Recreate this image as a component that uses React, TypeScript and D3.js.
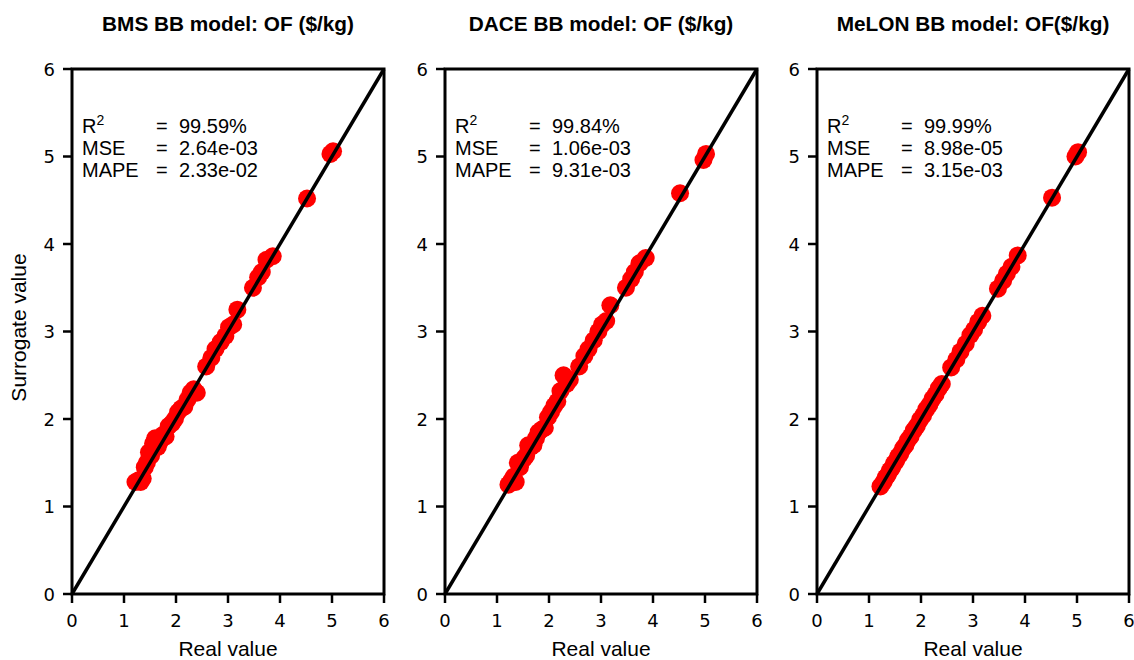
import React, { useRef, useEffect } from 'react';
import * as d3 from 'd3';

// shared test-set real values
const realValues = [
  1.22, 1.28, 1.32, 1.36, 1.40, 1.44, 1.48, 1.52, 1.56, 1.60,
  1.65, 1.70, 1.75, 1.80, 1.86, 1.92, 1.98, 2.04, 2.10, 2.16,
  2.22, 2.28, 2.34, 2.40, 2.58, 2.68, 2.76, 2.86, 2.95, 3.02,
  3.10, 3.18, 3.48, 3.58, 3.65, 3.74, 3.86, 4.52, 4.97, 5.02,
];

const bmsValues = [
  1.28, 1.30, 1.28, 1.32, 1.45, 1.50, 1.62, 1.58, 1.72, 1.78,
  1.68, 1.75, 1.82, 1.80, 1.92, 1.95, 2.00, 2.08, 2.12, 2.14,
  2.22, 2.30, 2.34, 2.30, 2.60, 2.70, 2.80, 2.88, 2.95, 3.05,
  3.08, 3.25, 3.50, 3.62, 3.68, 3.82, 3.86, 4.52, 5.03, 5.06,
];

const daceValues = [
  1.25, 1.30, 1.34, 1.28, 1.50, 1.45, 1.52, 1.55, 1.58, 1.70,
  1.68, 1.70, 1.78, 1.85, 1.88, 1.90, 2.02, 2.08, 2.15, 2.20,
  2.32, 2.50, 2.40, 2.45, 2.60, 2.72, 2.80, 2.90, 3.00, 3.08,
  3.12, 3.30, 3.50, 3.60, 3.68, 3.78, 3.84, 4.58, 4.96, 5.03,
];

const melonValues = [
  1.23, 1.28, 1.33, 1.36, 1.41, 1.44, 1.49, 1.52, 1.57, 1.60,
  1.66, 1.70, 1.76, 1.80, 1.87, 1.92, 1.99, 2.04, 2.11, 2.16,
  2.23, 2.28, 2.35, 2.40, 2.59, 2.68, 2.77, 2.86, 2.96, 3.02,
  3.11, 3.18, 3.49, 3.58, 3.66, 3.74, 3.87, 4.53, 5.00, 5.05,
];

const titles = [
  'BMS BB model: OF ($/kg)',
  'DACE BB model: OF ($/kg)',
  'MeLON BB model: OF($/kg)',
];

const metricLabels = ['MSE', 'MAPE'];
const metricValues = [
  ['99.59%', '2.64e-03', '2.33e-02'],
  ['99.84%', '1.06e-03', '9.31e-03'],
  ['99.99%', '8.98e-05', '3.15e-03'],
];

const ticks = [0, 1, 2, 3, 4, 5, 6];

function App() {
  const chartRef = useRef<SVGSVGElement>(null);

  useEffect(() => {
    drawChart();
  }, []);

  const drawChart = () => {
    const svgWidth = 1134;
    const svgHeight = 660;
    const panelLeft = [72, 445, 817];
    const panelWidth = 312;
    const top = 69;
    const bottom = 594;
    const series = [bmsValues, daceValues, melonValues];
    const sans = '"Liberation Sans", Arial, sans-serif';
    const tickFont = '"DejaVu Sans", sans-serif';

    const root = d3.select(chartRef.current);
    root.selectAll('*').remove();
    root.attr('width', svgWidth).attr('height', svgHeight);

    const yScale = d3.scaleLinear().domain([0, 6]).range([bottom, top]);

    series.forEach((vals, i) => {
      const x0 = panelLeft[i];
      const xScale = d3.scaleLinear().domain([0, 6]).range([x0, x0 + panelWidth]);
      const g = root.append('g');

      // title
      g.append('text')
        .attr('x', x0 + panelWidth / 2)
        .attr('y', 31)
        .attr('text-anchor', 'middle')
        .attr('font-family', sans)
        .attr('font-weight', 'bold')
        .attr('font-size', 20.8)
        .text(titles[i]);

      // points
      const pts = realValues.map((r, k) => ({ r, s: vals[k] }));
      g.selectAll('.dot')
        .data(pts)
        .enter().append('circle')
        .attr('class', 'dot')
        .attr('cx', d => xScale(d.r))
        .attr('cy', d => yScale(d.s))
        .attr('r', 9)
        .attr('fill', '#ff0000');

      // identity line
      const line = d3.line<number>()
        .x(d => xScale(d))
        .y(d => yScale(d));
      g.append('path')
        .datum([0, 6])
        .attr('fill', 'none')
        .attr('stroke', 'black')
        .attr('stroke-width', 3.5)
        .attr('d', line);

      // x ticks
      g.selectAll('.xtick')
        .data(ticks)
        .enter().append('line')
        .attr('class', 'xtick')
        .attr('x1', d => xScale(d))
        .attr('x2', d => xScale(d))
        .attr('y1', bottom)
        .attr('y2', bottom + 9)
        .attr('stroke', 'black')
        .attr('stroke-width', 2.5);
      g.selectAll('.xlab')
        .data(ticks)
        .enter().append('text')
        .attr('class', 'xlab')
        .attr('x', d => xScale(d))
        .attr('y', bottom + 33)
        .attr('text-anchor', 'middle')
        .style('font-family', tickFont)
        .style('font-size', '18px')
        .text(d => d);

      // y ticks
      g.selectAll('.ytick')
        .data(ticks)
        .enter().append('line')
        .attr('class', 'ytick')
        .attr('x1', x0 - 9)
        .attr('x2', x0)
        .attr('y1', d => yScale(d))
        .attr('y2', d => yScale(d))
        .attr('stroke', 'black')
        .attr('stroke-width', 2.5);
      g.selectAll('.ylab')
        .data(ticks)
        .enter().append('text')
        .attr('class', 'ylab')
        .attr('x', x0 - 17)
        .attr('y', d => yScale(d) + 6.5)
        .attr('text-anchor', 'end')
        .style('font-family', tickFont)
        .style('font-size', '18px')
        .text(d => d);

      // frame
      g.append('rect')
        .attr('x', x0)
        .attr('y', top)
        .attr('width', panelWidth)
        .attr('height', bottom - top)
        .attr('fill', 'none')
        .attr('stroke', 'black')
        .attr('stroke-width', 3);

      // metrics
      const txt = g.append('g')
        .attr('font-family', sans)
        .attr('font-size', 20)
        .attr('fill', 'black');
      const r2 = txt.append('text').attr('x', x0 + 10).attr('y', 133);
      r2.append('tspan').text('R');
      r2.append('tspan').attr('font-size', 14).attr('dy', -8).text('2');
      metricLabels.forEach((m, k) => {
        txt.append('text').attr('x', x0 + 10).attr('y', 155 + k * 22).text(m);
      });
      metricValues[i].forEach((v, k) => {
        txt.append('text').attr('x', x0 + 84).attr('y', 133 + k * 22).text('=');
        txt.append('text').attr('x', x0 + 107).attr('y', 133 + k * 22).text(v);
      });

      // x label
      g.append('text')
        .attr('x', x0 + panelWidth / 2)
        .attr('y', 656)
        .attr('text-anchor', 'middle')
        .attr('font-family', sans)
        .attr('font-size', 21)
        .text('Real value');
    });

    // y label
    root.append('text')
      .attr('transform', `translate(26,${(top + bottom) / 2 - 4}) rotate(-90)`)
      .attr('text-anchor', 'middle')
      .attr('font-family', sans)
      .attr('font-size', 21)
      .text('Surrogate value');
  };

  return (
    <svg ref={chartRef} style={{ position: 'absolute', left: 0, top: 0, background: 'white' }}></svg>
  );
}

export default App;
